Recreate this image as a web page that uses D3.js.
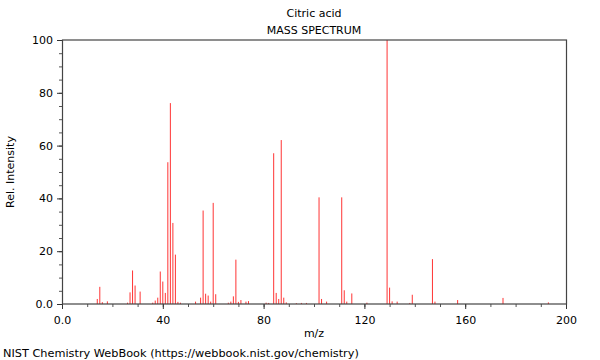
<!DOCTYPE html>
<html>
<head>
<meta charset="utf-8">
<script src="https://cdn.jsdelivr.net/npm/d3@7"></script>
<style>
  body { margin: 0; background: #fff; }
  svg text { font-family: "DejaVu Sans", sans-serif; font-size: 11px; fill: #000; }
</style>
</head>
<body>
<div id="spectrum"></div>
<script>
// peaks: m/z and relative intensity
var mz = [14, 15, 16, 18, 26, 27, 28, 29, 31, 36, 37, 38, 39, 40, 41, 42, 43, 44, 45, 46, 47,
  53, 55, 56, 57, 58, 59, 60, 61, 66, 67, 68, 69, 70, 71, 73, 74, 81, 82, 84, 85, 86, 87, 88, 89,
  93, 95, 97, 102, 103, 105, 111, 112, 113, 115, 121, 129, 130, 131, 133, 138, 139, 147, 148,
  157, 175, 193];
var intensity = [1.9, 6.5, 0.7, 1.0, 0.5, 4.4, 12.7, 7.0, 4.7, 0.5, 1.3, 2.4, 12.3, 8.5, 4.2, 53.7, 76.1, 30.7, 18.7, 0.8, 0.5,
  0.9, 2.4, 35.4, 3.9, 3.2, 0.9, 38.3, 3.7, 0.5, 0.9, 2.9, 16.8, 0.8, 1.5, 0.9, 1.1, 0.5, 0.4, 57.1, 4.2, 1.9, 62.1, 2.4, 0.6,
  0.3, 0.4, 0.4, 40.4, 1.9, 0.9, 40.4, 5.2, 0.9, 4.0, 0.5, 100, 6.2, 1.0, 0.9, 0.4, 3.5, 17.0, 0.9,
  1.5, 2.3, 0.6];

var xTicks = [0, 40, 80, 120, 160, 200];
var yTicks = [0, 20, 40, 60, 80, 100];

var title = "Citric acid";
var subtitle = "MASS SPECTRUM";
var footer = "NIST Chemistry WebBook (https://webbook.nist.gov/chemistry)";

var margin = {top: 40, right: 34, bottom: 56, left: 62},
    width = 600 - margin.left - margin.right,
    height = 360 - margin.top - margin.bottom;

var root = d3.select("#spectrum")
  .append("svg")
    .attr("width", 600)
    .attr("height", 360);

var svg = root.append("g")
    .attr("transform", "translate(" + margin.left + "," + margin.top + ")");

var x = d3.scaleLinear().domain([0, 200]).range([0, width]);
var y = d3.scaleLinear().domain([0, 100]).range([height, 0]);

function fmt(d) { return d === 0 ? "0.0" : String(d); }

// minor ticks first so the major ones draw over them
svg.append("g")
  .attr("transform", "translate(0," + height + ")")
  .call(d3.axisBottom(x).tickValues(d3.range(0, 201, 10)).tickSize(3).tickFormat(""))
  .call(g => g.select(".domain").remove())
  .selectAll("line").attr("stroke", "#555");
svg.append("g")
  .call(d3.axisLeft(y).tickValues(d3.range(0, 101, 5)).tickSize(3).tickFormat(""))
  .call(g => g.select(".domain").remove())
  .selectAll("line").attr("stroke", "#555");

var xAxis = svg.append("g")
  .attr("transform", "translate(0," + height + ")")
  .call(d3.axisBottom(x).tickValues(xTicks).tickSize(5).tickPadding(7).tickFormat(fmt));
xAxis.select(".domain").remove();
xAxis.selectAll("line").attr("stroke", "#333");

var yAxis = svg.append("g")
  .call(d3.axisLeft(y).tickValues(yTicks).tickSize(5).tickPadding(4).tickFormat(fmt));
yAxis.select(".domain").remove();
yAxis.selectAll("line").attr("stroke", "#333");

svg.selectAll(".tick text")
  .style("font-family", "DejaVu Sans, sans-serif")
  .style("font-size", "11px")
  .attr("fill", "#000");

// peaks
var peaks = mz.map(function(m, i) { return {m: m, v: intensity[i]}; });
svg.append("g")
  .selectAll("line")
  .data(peaks)
  .enter().append("line")
    .attr("x1", function(d) { return x(d.m); })
    .attr("x2", function(d) { return x(d.m); })
    .attr("y1", y(0))
    .attr("y2", function(d) { return y(d.v); })
    .attr("stroke", "#f00")
    .attr("stroke-opacity", 0.8)
    .attr("stroke-width", 1);

// frame
svg.append("rect")
  .attr("x", 0.5).attr("y", 0)
  .attr("width", width).attr("height", height)
  .attr("fill", "none")
  .attr("stroke", "#444")
  .attr("stroke-width", 1.2);

// labels
root.append("text")
  .attr("x", margin.left + width / 2).attr("y", 17)
  .attr("text-anchor", "middle")
  .text(title);
root.append("text")
  .attr("x", margin.left + width / 2).attr("y", 34)
  .attr("text-anchor", "middle")
  .text(subtitle);
root.append("text")
  .attr("x", margin.left + width / 2).attr("y", 337)
  .attr("text-anchor", "middle")
  .text("m/z");
root.append("text")
  .attr("transform", "translate(14," + (margin.top + height / 2) + ") rotate(-90)")
  .attr("text-anchor", "middle")
  .text("Rel. Intensity");
root.append("text")
  .attr("x", 3).attr("y", 357)
  .style("font-size", "11.3px")
  .text(footer);
</script>
</body>
</html>
